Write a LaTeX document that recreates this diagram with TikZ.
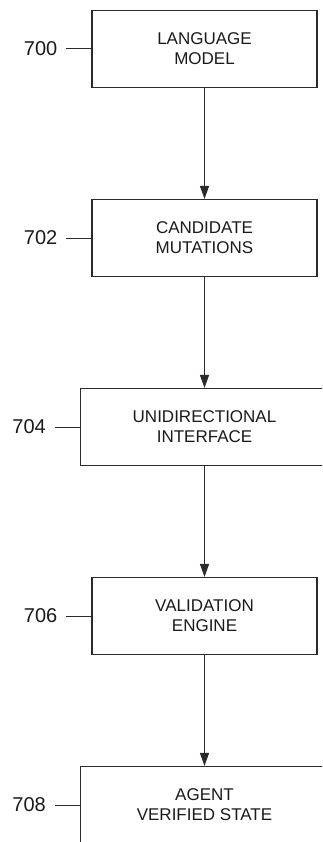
\documentclass[tikz,border=0pt]{standalone}
\usepackage{fontspec}
\setmainfont{Liberation Sans}
\usepackage{tikz}
\usetikzlibrary{arrows.meta,positioning}
\definecolor{lineInk}{HTML}{2B2B2B}
\definecolor{textInk}{HTML}{1A1A1A}

\begin{document}
\begin{tikzpicture}[x=1pt,y=1pt,
    stepbox/.style={draw=lineInk,line width=1.1pt,rectangle,align=center,
      minimum width=225pt,minimum height=77pt,inner sep=0pt,text=textInk,
      font=\fontsize{17}{20}\selectfont},
    widebox/.style={stepbox,minimum width=248pt},
    reflabel/.style={inner xsep=9pt,inner ysep=0pt,text=textInk,
      font=\fontsize{20}{24}\selectfont},
    flow/.style={draw=lineInk,line width=1.1pt,-{Triangle[length=13pt,width=9pt]}},
    lead/.style={draw=lineInk,line width=1pt}]
  % page frame, right side cut off as in the sheet
  \clip (0,0) rectangle (322,-842);
  \node[stepbox] (lm) at (204.5,-49) {LANGUAGE\\MODEL};
  \node[stepbox] (cm) at (204.5,-238) {CANDIDATE\\MUTATIONS};
  \node[widebox] (ui) at (204.5,-427) {UNIDIRECTIONAL\\INTERFACE};
  \node[stepbox] (ve) at (204.5,-616) {VALIDATION\\ENGINE};
  \node[widebox] (av) at (204.5,-805) {AGENT\\VERIFIED STATE};
  % reference numerals
  \node[reflabel,left=25pt of lm.west] (n700) {700};
  \node[reflabel,left=25pt of cm.west] (n702) {702};
  \node[reflabel,left=25pt of ui.west] (n704) {704};
  \node[reflabel,left=25pt of ve.west] (n706) {706};
  \node[reflabel,left=25pt of av.west] (n708) {708};
  \foreach \n/\b in {n700/lm,n702/cm,n704/ui,n706/ve,n708/av}
    \draw[lead] (\n) -- (\b);
  % flow
  \draw[flow] (lm) -- (cm);
  \draw[flow] (cm) -- (ui);
  \draw[flow] (ui) -- (ve);
  \draw[flow] (ve) -- (av);
\end{tikzpicture}
\end{document}
